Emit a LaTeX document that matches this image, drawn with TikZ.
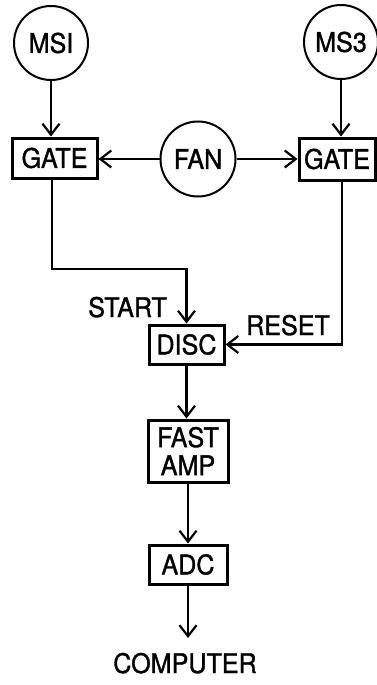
\documentclass[tikz,border=0pt]{standalone}
\usepackage{fontspec}
\setmainfont[FakeBold=1.2,FakeStretch=0.93]{TeX Gyre Heros}
\usetikzlibrary{arrows.meta}
\begin{document}
\begin{tikzpicture}[x=1pt,y=-1pt,
  lbl/.style={font=\fontsize{27}{28}\selectfont, inner sep=0pt},
  ring/.style={circle, draw, line width=2pt, minimum size=74pt, inner sep=0pt, font=\fontsize{27}{28}\selectfont},
  blk/.style={rectangle, draw, line width=3pt, inner sep=0pt, align=center, font=\fontsize{27}{28}\selectfont},
  arr/.style={line width=2.5pt, -{Straight Barb[length=11pt,width=17pt,line width=2.2pt]}},
  wire/.style={line width=2.5pt}]
\useasboundingbox (0,0) rectangle (377,685);
\begin{scope}
\clip (0,0) rectangle (377,685);
\node[ring] (ms1) at (51,43) {MSI};
\node[ring] (ms3) at (341,42) {MS3};
\node[blk, minimum width=85pt, minimum height=40pt] (gate1) at (54.5,158) {GATE};
\node[ring, minimum size=75pt] (fan) at (198,159) {FAN};
\node[blk, minimum width=76pt, minimum height=42pt] (gate3) at (337,159) {GATE};
\node[blk, minimum width=75pt, minimum height=39pt] (disc) at (186.5,344.5) {DISC};
\node[blk, minimum width=80pt, minimum height=62pt] (fast) at (188,451) {FAST\\AMP};
\node[blk, minimum width=78pt, minimum height=39pt] (adc) at (188,564.5) {ADC};
\node[lbl, anchor=base] (comp) at (185,673) {COMPUTER};
\node[lbl, anchor=base east] (start) at (167,317) {START};
\node[lbl, anchor=base west] (reset) at (246,335) {RESET};
\coordinate (c1) at (52,269);
\coordinate (c2) at (342,344.5);
\coordinate (cend) at (187,638);

\draw[arr] (ms1.south) -- (ms1.south |- gate1.north);
\draw[arr] (ms3.south) -- (ms3.south |- gate3.north);
\draw[arr] (fan.west) -- (fan.west -| gate1.east);
\draw[arr] (fan.east) -- (fan.east -| gate3.west);
\draw[arr] (c1 |- gate1.south) -- (c1) -| (disc.north);
\draw[arr] (c2 |- gate3.south) -- (c2) -- (disc.east);
\draw[arr] (disc.south) -- (disc.south |- fast.north);
\draw[arr] (fast.south) -- (fast.south |- adc.north);
\draw[arr] (adc.south) -- (adc.south |- cend);
\end{scope}
\end{tikzpicture}
\end{document}
